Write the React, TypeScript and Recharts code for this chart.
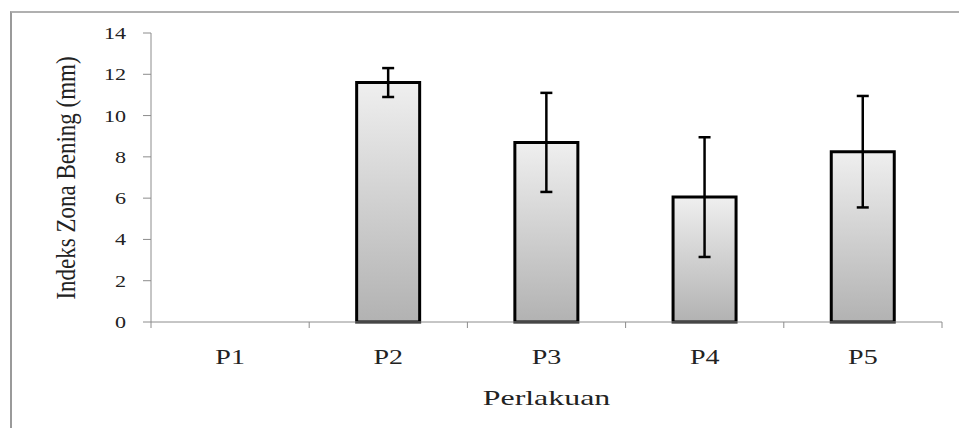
import { BarChart, Bar, XAxis, YAxis, ErrorBar, Label } from 'recharts';

const categories = ['P1', 'P2', 'P3', 'P4', 'P5'];
const means = [0, 11.6, 8.7, 6.05, 8.25];
const errors = [null, 0.7, 2.4, 2.9, 2.7];
const yTicks = [0, 2, 4, 6, 8, 10, 12, 14];

const data = categories.map((name, i) => ({ name, value: means[i], err: errors[i] }));

const FONT = '"Liberation Serif", "Times New Roman", serif';
const AXIS_GREY = '#8c8c8c';

// the source chart is stretched sideways, so text gets a horizontal scale
function YTick({ x, y, payload }: any) {
  return (
    <text
      transform={`translate(${x},${y}) scale(1.3,1)`}
      textAnchor="end"
      dy="0.35em"
      fontFamily={FONT}
      fontSize={17}
      fill="#222"
    >
      {payload.value}
    </text>
  );
}

// Excel-style category axis: tick marks sit on the band edges, not the centres
function XTick({ x, y, payload, index, visibleTicksCount }: any) {
  const half = payload.offset || 0;
  const last = index === visibleTicksCount - 1;
  return (
    <g>
      <line x1={x - half} y1={y} x2={x - half} y2={y + 6} stroke={AXIS_GREY} />
      {last && <line x1={x + half} y1={y} x2={x + half} y2={y + 6} stroke={AXIS_GREY} />}
      <text
        transform={`translate(${x},${y + 42}) scale(1.4,1)`}
        textAnchor="middle"
        fontFamily={FONT}
        fontSize={20}
        fill="#222"
      >
        {payload.value}
      </text>
    </g>
  );
}

function XTitle({ viewBox }: any) {
  const cx = viewBox.x + viewBox.width / 2;
  return (
    <text
      transform={`translate(${cx},405) scale(1.45,1)`}
      textAnchor="middle"
      fontFamily={FONT}
      fontSize={22}
      fill="#222"
    >
      Perlakuan
    </text>
  );
}

function YTitle() {
  return (
    <text
      transform="translate(66,178) rotate(-90) scale(1,1.15)"
      textAnchor="middle"
      dominantBaseline="central"
      fontFamily={FONT}
      fontSize={23}
      fill="#222"
    >
      Indeks Zona Bening (mm)
    </text>
  );
}

export default function App() {
  return (
    <div style={{ position: 'absolute', left: 0, top: 0, width: 959, height: 428, background: '#fff' }}>
      <div
        style={{
          position: 'absolute',
          left: 10,
          top: 11,
          width: 949,
          height: 417,
          borderLeft: '2px solid #9a9a9a',
          borderTop: '2px solid #b0b0b0',
        }}
      />
      <div style={{ position: 'absolute', left: 0, top: 0 }}>
        <BarChart
          width={959}
          height={428}
          data={data}
          margin={{ top: 33, right: 17, left: 0, bottom: 22 }}
          barCategoryGap="30%"
        >
          <defs>
            <linearGradient id="barFill" x1="0" y1="0" x2="0" y2="1">
              <stop offset="0%" stopColor="#efefef" />
              <stop offset="100%" stopColor="#b2b2b2" />
            </linearGradient>
          </defs>
          <XAxis
            dataKey="name"
            height={84}
            axisLine={{ stroke: AXIS_GREY }}
            tickLine={false}
            tickSize={0}
            tickMargin={0}
            tick={<XTick />}
          >
            <Label content={<XTitle />} />
          </XAxis>
          <YAxis
            width={151}
            domain={[0, 14]}
            ticks={yTicks}
            axisLine={{ stroke: AXIS_GREY }}
            tickLine={{ stroke: AXIS_GREY }}
            tickSize={8}
            tickMargin={17}
            tick={<YTick />}
          >
            <Label content={<YTitle />} />
          </YAxis>
          <Bar
            dataKey="value"
            fill="url(#barFill)"
            stroke="#000"
            strokeWidth={3}
            isAnimationActive={false}
          >
            <ErrorBar dataKey="err" width={6} stroke="#000" strokeWidth={2.5} direction="y" />
          </Bar>
        </BarChart>
      </div>
    </div>
  );
}
